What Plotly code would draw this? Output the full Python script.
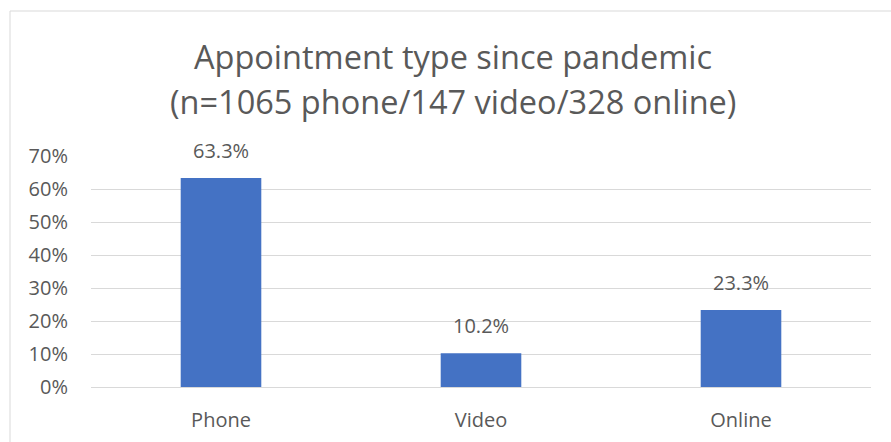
import plotly.graph_objects as go

categories = ["Phone", "Video", "Online"]
shares = [0.633, 0.102, 0.233]
tick_values = [0, 0.1, 0.2, 0.3, 0.4, 0.5, 0.6, 0.7]
tick_labels = ["0%", "10%", "20%", "30%", "40%", "50%", "60%", "70%"]
title_lines = ["Appointment type since pandemic", "(n=1065 phone/147 video/328 online)"]

W, H = 891, 442
L, R, T, B = 91, 20, 156, 55
plot_w = W - L - R
plot_h = H - T - B

text_color = "#595959"
font_family = "Open Sans, Segoe UI, sans-serif"
label_size = 20


def py(px):
    """Convert a pixel row (from the top of the page) to paper y."""
    return (H - B - px) / plot_h


fig = go.Figure(
    go.Bar(
        x=categories,
        y=shares,
        marker=dict(color="#4472C4", line=dict(width=0)),
        width=0.31,
        hovertemplate="%{x}: %{y:.1%}<extra></extra>",
    )
)

# value labels sitting above each bar
for cat, val in zip(categories, shares):
    fig.add_annotation(
        x=cat, y=val, text=f"{val*100:.1f}%",
        xref="x", yref="y", showarrow=False,
        xanchor="center", yanchor="bottom", yshift=12,
        font=dict(size=label_size, color=text_color, family=font_family),
    )

# chart frame: top and left edges inside the page
fig.add_shape(
    type="rect", xref="paper", yref="paper",
    x0=(10 - L) / plot_w, x1=(W + 10 - L) / plot_w,
    y0=py(H + 10), y1=py(11),
    line=dict(color="#d9d9d9", width=1), layer="below",
)

# two-line chart title
for line, centre in zip(title_lines, [56, 101]):
    fig.add_annotation(
        text=line, xref="paper", yref="paper",
        x=(W / 2 + 7 - L) / plot_w, y=py(centre),
        xanchor="center", yanchor="middle", showarrow=False,
        font=dict(size=32.5, color=text_color, family=font_family),
    )

fig.update_layout(
    width=W, height=H,
    margin=dict(l=L, r=R, t=T, b=B, autoexpand=False),
    paper_bgcolor="white", plot_bgcolor="white",
    xaxis=dict(
        showgrid=False, showline=False, ticks="", ticklabelstandoff=19,
        automargin=False,
        tickfont=dict(size=label_size, color=text_color, family=font_family),
    ),
    yaxis=dict(
        range=[0, 0.7], tickvals=tick_values, ticktext=tick_labels,
        showgrid=True, gridcolor="#d9d9d9", gridwidth=1,
        zeroline=True, zerolinecolor="#d9d9d9", zerolinewidth=1,
        showline=False, ticks="", ticklabelstandoff=22, automargin=False,
        tickfont=dict(size=label_size, color=text_color, family=font_family),
    ),
    bargap=0.69,
    showlegend=False,
)

fig.write_html("out.html")
